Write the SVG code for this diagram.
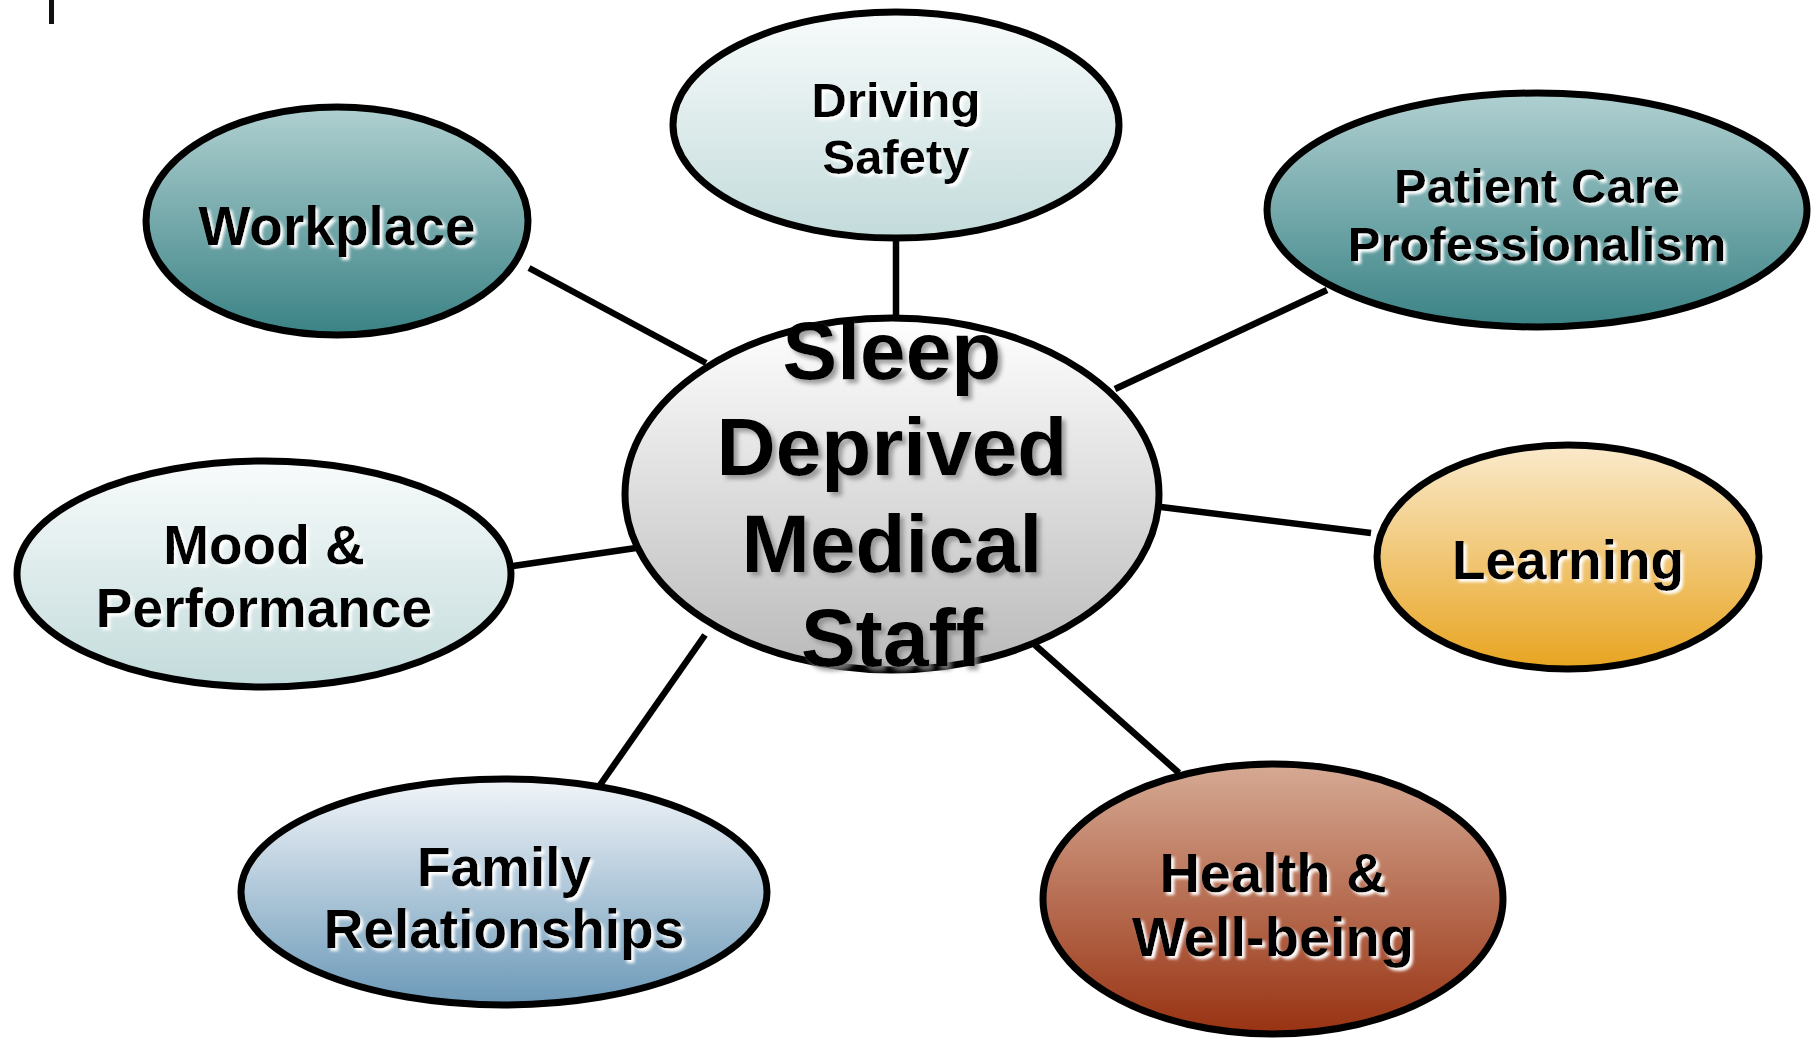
<svg xmlns="http://www.w3.org/2000/svg" width="1817" height="1042" viewBox="0 0 1817 1042">
  <style>
    .node { stroke: #000; stroke-width: 7; }
    .link { stroke: #000; stroke-width: 6.5; stroke-linecap: butt; fill: none; }
    .lbl { font-family: "Liberation Sans", Arial, sans-serif; font-weight: bold; fill: #000; text-anchor: middle; filter: url(#halo); }
    .hub { font-family: "Liberation Sans", Arial, sans-serif; font-weight: bold; fill: #000; text-anchor: middle; font-size: 82px; filter: url(#drop); }
  </style>
  <defs>
    <linearGradient id="gTeal" x1="0" y1="0" x2="0" y2="1">
      <stop offset="0" stop-color="#b0d0d1"/>
      <stop offset="1" stop-color="#3a8285"/>
    </linearGradient>
    <linearGradient id="gPale" x1="0" y1="0" x2="0" y2="1">
      <stop offset="0" stop-color="#f8fbfb"/>
      <stop offset="1" stop-color="#c3dbdb"/>
    </linearGradient>
    <linearGradient id="gBlue" x1="0" y1="0" x2="0" y2="1">
      <stop offset="0" stop-color="#f2f5f9"/>
      <stop offset="1" stop-color="#6b99b8"/>
    </linearGradient>
    <linearGradient id="gAmber" x1="0" y1="0" x2="0" y2="1">
      <stop offset="0" stop-color="#faeacb"/>
      <stop offset="1" stop-color="#e8a420"/>
    </linearGradient>
    <linearGradient id="gRust" x1="0" y1="0" x2="0" y2="1">
      <stop offset="0" stop-color="#d6aa94"/>
      <stop offset="1" stop-color="#983212"/>
    </linearGradient>
    <linearGradient id="gGrey" x1="0" y1="0" x2="0" y2="1">
      <stop offset="0" stop-color="#ffffff"/>
      <stop offset="1" stop-color="#bababa"/>
    </linearGradient>
    <!-- white soft shadow behind the satellite labels -->
    <filter id="halo" x="-10%" y="-20%" width="120%" height="150%">
      <feGaussianBlur in="SourceAlpha" stdDeviation="1.5" result="b"/>
      <feOffset in="b" dx="2.5" dy="2.5" result="o"/>
      <feFlood flood-color="#ffffff"/>
      <feComposite in2="o" operator="in" result="s"/>
      <feMerge><feMergeNode in="s"/><feMergeNode in="SourceGraphic"/></feMerge>
    </filter>
    <!-- grey drop shadow behind the hub title -->
    <filter id="drop" x="-10%" y="-20%" width="130%" height="150%">
      <feGaussianBlur in="SourceAlpha" stdDeviation="2" result="b"/>
      <feOffset in="b" dx="4" dy="4" result="o"/>
      <feFlood flood-color="#8a8a8a" flood-opacity="0.8"/>
      <feComposite in2="o" operator="in" result="s"/>
      <feMerge><feMergeNode in="s"/><feMergeNode in="SourceGraphic"/></feMerge>
    </filter>
  </defs>

  <rect x="0" y="0" width="1817" height="1042" fill="#ffffff"/>
  <!-- small vertical mark, top left -->
  <rect x="49" y="0" width="5" height="24" fill="#111"/>

  <g id="connectors">
    <line class="link" x1="529" y1="268" x2="706" y2="363"/>
    <line class="link" x1="896" y1="241" x2="896" y2="316"/>
    <line class="link" x1="1327" y1="290" x2="1115" y2="389"/>
    <line class="link" x1="1371" y1="533" x2="1161" y2="507"/>
    <line class="link" x1="513" y1="566" x2="636" y2="548"/>
    <line class="link" x1="600" y1="785" x2="705" y2="635"/>
    <line class="link" x1="1179" y1="773" x2="1035" y2="645"/>
  </g>

  <g id="workplace">
    <ellipse class="node" cx="337" cy="221" rx="191" ry="114" fill="url(#gTeal)"/>
    <text class="lbl" x="337" y="245" font-size="55">Workplace</text>
  </g>

  <g id="driving-safety">
    <ellipse class="node" cx="896" cy="125" rx="223" ry="113" fill="url(#gPale)"/>
    <text class="lbl" x="896" y="117" font-size="49">Driving</text>
    <text class="lbl" x="896" y="174" font-size="49">Safety</text>
  </g>

  <g id="patient-care">
    <ellipse class="node" cx="1537" cy="210" rx="270" ry="117" fill="url(#gTeal)"/>
    <text class="lbl" x="1537" y="203" font-size="49">Patient Care</text>
    <text class="lbl" x="1537" y="261" font-size="49">Professionalism</text>
  </g>

  <g id="learning">
    <ellipse class="node" cx="1568" cy="557" rx="191" ry="112" fill="url(#gAmber)"/>
    <text class="lbl" x="1568" y="579" font-size="55">Learning</text>
  </g>

  <g id="mood-performance">
    <ellipse class="node" cx="264" cy="574" rx="247" ry="113" fill="url(#gPale)"/>
    <text class="lbl" x="264" y="564" font-size="55">Mood &amp;</text>
    <text class="lbl" x="264" y="627" font-size="55">Performance</text>
  </g>

  <g id="family-relationships">
    <ellipse class="node" cx="504" cy="892" rx="263" ry="113" fill="url(#gBlue)"/>
    <text class="lbl" x="504" y="886" font-size="55">Family</text>
    <text class="lbl" x="504" y="948" font-size="55">Relationships</text>
  </g>

  <g id="health-wellbeing">
    <ellipse class="node" cx="1273" cy="899" rx="230" ry="135" fill="url(#gRust)"/>
    <text class="lbl" x="1273" y="892" font-size="56">Health &amp;</text>
    <text class="lbl" x="1273" y="956" font-size="56">Well-being</text>
  </g>

  <g id="sleep-deprived-medical-staff">
    <ellipse class="node" cx="892" cy="494" rx="267" ry="176" fill="url(#gGrey)"/>
    <text class="hub" x="892" y="379">Sleep</text>
    <text class="hub" x="892" y="475">Deprived</text>
    <text class="hub" x="892" y="572">Medical</text>
    <text class="hub" x="892" y="666">Staff</text>
  </g>
</svg>
